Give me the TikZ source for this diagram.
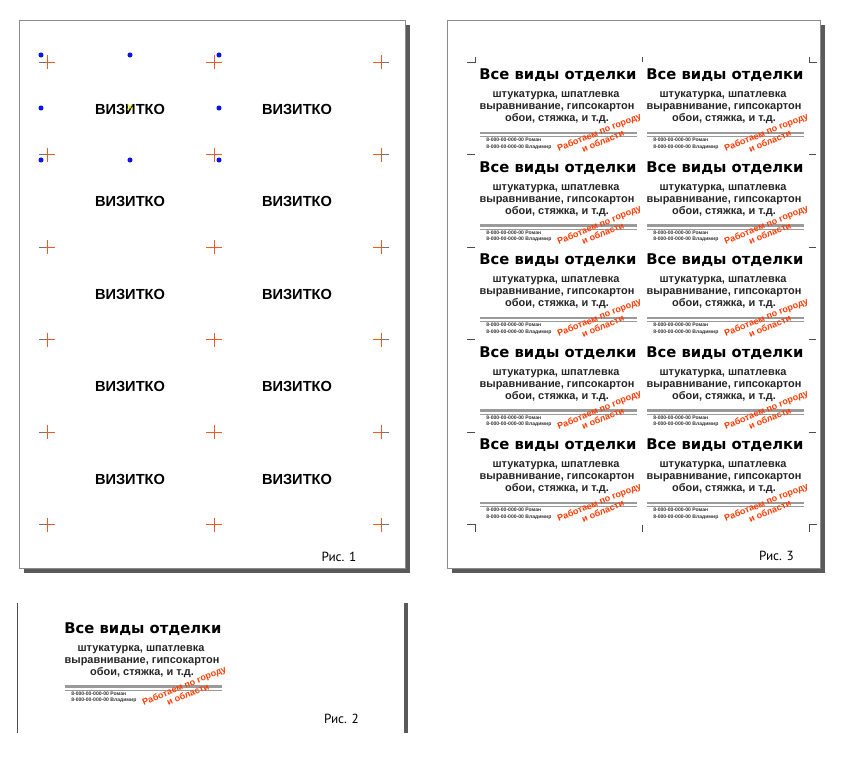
\documentclass[tikz,border=0pt]{standalone}
\usepackage{fontspec}
\setmainfont{Liberation Sans}
\newfontfamily\titlefont{DejaVu Sans}
\newfontfamily\capfont{PT Sans}
\usetikzlibrary{positioning}
\definecolor{cutRed}{HTML}{EE5A24}
\definecolor{adRed}{HTML}{FF3A00}
\definecolor{handleBlue}{HTML}{0A14E6}
\definecolor{frameGray}{HTML}{8C8C8C}
\definecolor{shadowGray}{HTML}{5A5A5A}
\definecolor{ruleGray}{HTML}{9A9A9A}

\begin{document}
\begin{tikzpicture}[
  x=0.025cm, y=-0.025cm,
  page/.style={draw=frameGray, fill=white, line width=0.5pt},
  shadow/.style={fill=shadowGray, draw=none},
  cross/.style={cutRed, line width=0.55pt},
  crossgray/.style={black!55, line width=0.55pt},
  cropline/.style={black!70, line width=0.5pt},
  handle/.style={circle, fill=handleBlue, inner sep=0pt, minimum size=3.6pt},
  dummy/.style={font=\bfseries\fontsize{10.4}{12}\selectfont, inner sep=0pt, anchor=base},
  title/.style={font=\titlefont\bfseries\fontsize{10.5}{12}\selectfont, inner sep=0pt, anchor=base},
  sub/.style={font=\bfseries\fontsize{7.8}{8.6}\selectfont, text=black!85, inner sep=0pt, anchor=base},
  phone/.style={font=\bfseries\fontsize{3.6}{4}\selectfont, text=black!80, inner sep=0pt, anchor=base west},
  promo/.style={font=\bfseries\fontsize{6.4}{7}\selectfont, text=adRed, align=center, rotate=22, inner sep=0pt},
  caption/.style={font=\capfont\fontsize{9.4}{11}\selectfont, inner sep=0pt, anchor=base}
]
\useasboundingbox (0,0) rectangle (850,771);
% figure 1: layout sheet with dummies
\fill[shadow] (24,25) rectangle (410,573);
\draw[page] (19,20) rectangle (405,568);
\foreach \r in {0,...,4}{
  \node[dummy] (vizA-\r) at (130,114+92.5*\r) {ВИЗИТКО};
  \node[dummy] (vizB-\r) at (297,114+92.5*\r) {ВИЗИТКО};
}
% cut crosses
\foreach \r in {0,...,5}{
  \foreach \cx in {47,214,381}{
    \draw[cross] (\cx-8,62+92.5*\r) -- (\cx+8,62+92.5*\r) (\cx,55+92.5*\r) -- (\cx,69+92.5*\r);
  }
  \draw[crossgray] (39,62+92.5*\r) -- (46,62+92.5*\r);
  \draw[crossgray] (382,62+92.5*\r) -- (389,62+92.5*\r);
}
% selection handles on the first dummy
\foreach \hx/\hy [count=\i] in {41/55,130/55,219/55,41/108,219/108,41/160,130/160,219/160}{
  \node[handle] (hd-\i) at (\hx,\hy) {};
}
\draw[yellow!85!green, line width=0.6pt] (127.5,104.5) -- (132.5,109.5) (127.5,109.5) -- (132.5,104.5);
\node[caption] (cap1) at (339,561) {Рис. 1};

% figure 3: filled sheet
\fill[shadow] (452,25) rectangle (825,573);
\draw[page] (447,20) rectangle (820,568);
\draw[cropline] (467,62) -- (475,62) -- (475,57);
\draw[cropline] (642,57) -- (642,62);
\draw[cropline] (809,57) -- (809,62) -- (817,62);
\foreach \r in {1,...,4}{
  \draw[cropline] (467,62+92.5*\r) -- (475,62+92.5*\r);
  \draw[cropline] (809,62+92.5*\r) -- (816,62+92.5*\r);
}
\draw[cropline] (467,524.5) -- (475,524.5) -- (475,532);
\draw[cropline] (642,525) -- (642,532);
\draw[cropline] (809,532) -- (809,524.5) -- (817,524.5);
\node[caption] (cap3) at (776.5,560) {Рис. 3};

% figure 2: single card
\draw[black!70, line width=0.6pt] (17,603) -- (17,733);
\draw[shadowGray, line width=2.2pt] (406,603) -- (406,733);
\node[caption] (cap2) at (341.5,723) {Рис. 2};

% business cards
\foreach \cx/\cy/\n in {558/79.5/a1,725/79.5/b1,558/172/a2,725/172/b2,558/264.5/a3,725/264.5/b3,
    558/357/a4,725/357/b4,558/449.5/a5,725/449.5/b5,143/633/single}{
  \begin{scope}[shift={(\cx,\cy)}]
    \node[title] (title-\n) at (0,0) {Все виды отделки};
    \node[sub] (sub1-\n) at (-2,18) {штукатурка, шпатлевка};
    \node[sub] (sub2-\n) at (-1,30) {выравнивание, гипсокартон};
    \node[sub] (sub3-\n) at (-1,42) {обои, стяжка, и т.д.};
    \draw[ruleGray, line width=1.7pt] (-78,53.5) -- (79,53.5);
    \draw[ruleGray, line width=0.5pt] (-78,57) -- (79,57);
    \node[phone] (ph1-\n) at (-72,62) {8-000-00-000-00 Роман};
    \node[phone] (ph2-\n) at (-72,68.5) {8-000-00-000-00 Владимир};
    \node[promo] (promo-\n) at (43,57) {Работаем по городу\\и области};
  \end{scope}
}
\end{tikzpicture}
\end{document}
